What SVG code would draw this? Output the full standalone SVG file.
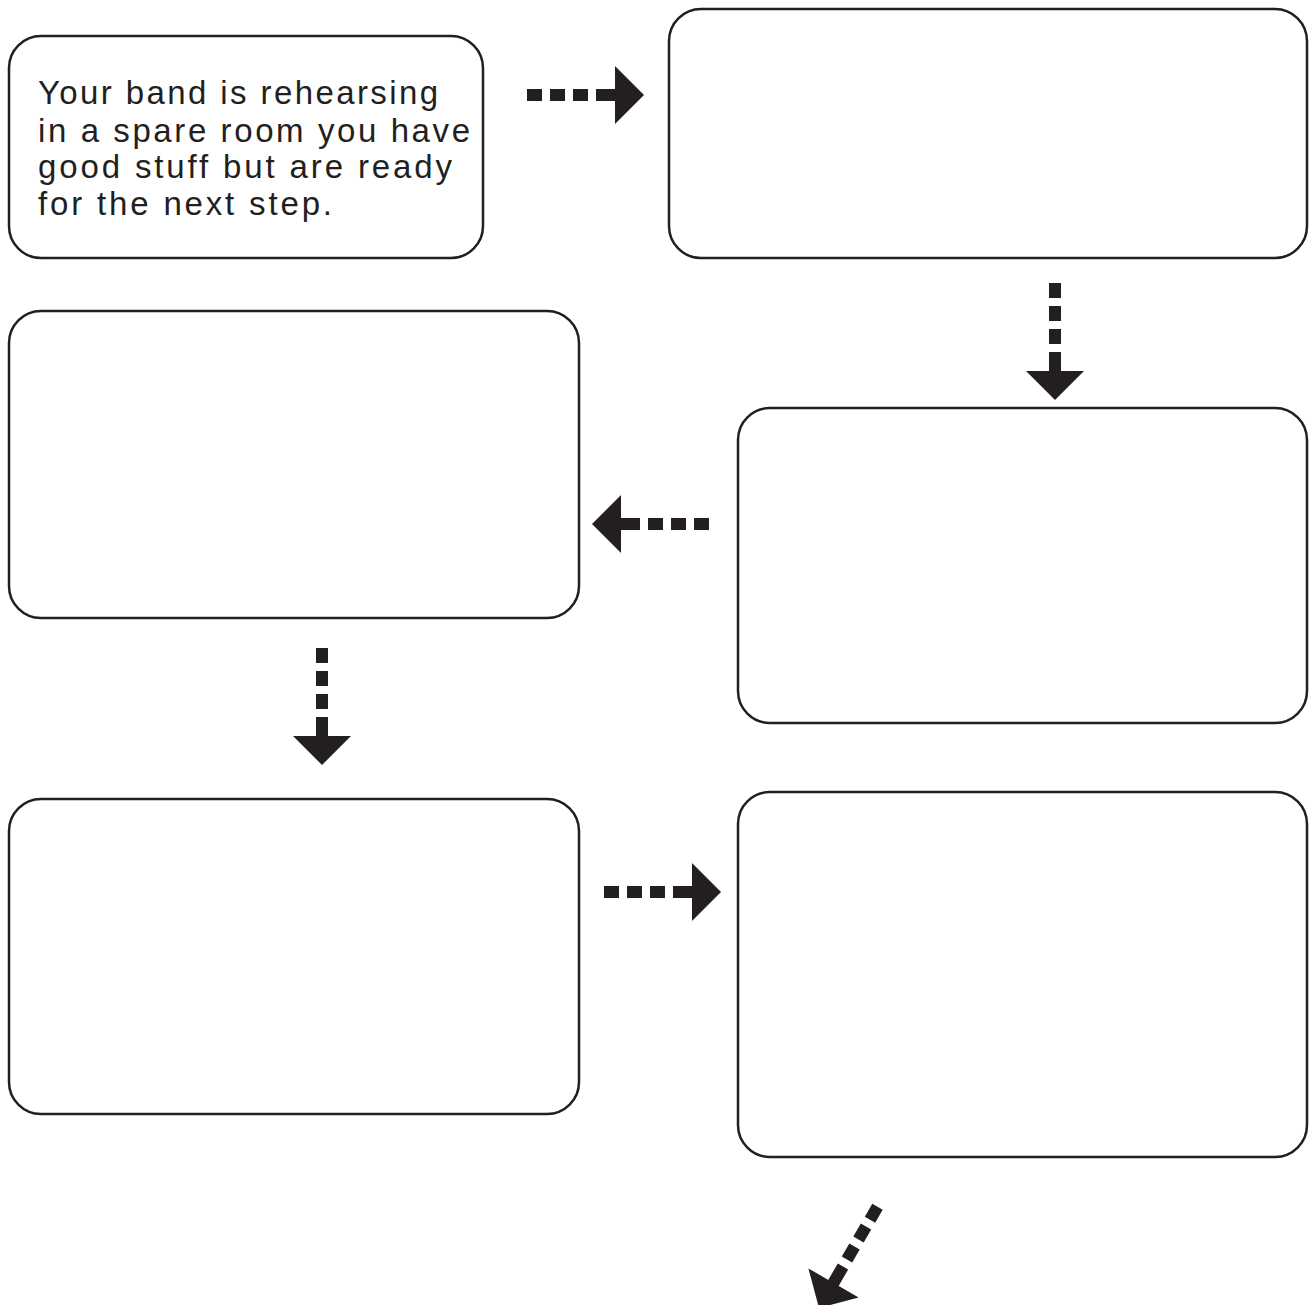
<svg xmlns="http://www.w3.org/2000/svg" xmlns:xlink="http://www.w3.org/1999/xlink" width="1310" height="1305" viewBox="0 0 1310 1305">
<style>
.box{fill:#fff;stroke:#231f20;stroke-width:2.5}
.txt{font-family:"Liberation Sans","DejaVu Sans",sans-serif;font-size:33px;fill:#231f20}
.ar{fill:#231f20}
</style>
<defs>
<g id="arrow" class="ar">
<polygon points="-29,-29 0,0 -29,29"/>
<rect x="-48" y="-6" width="20" height="12"/>
<rect x="-71" y="-6" width="15" height="12"/>
<rect x="-94" y="-6" width="15" height="12"/>
<rect x="-117" y="-6" width="15" height="12"/>
</g>
</defs>
<rect width="1310" height="1305" fill="#fff"/>
<g id="node1">
<rect class="box" x="9" y="36" width="474" height="222" rx="32"/>
<text class="txt" x="38" y="104" textLength="400" lengthAdjust="spacing">Your band is rehearsing</text>
<text class="txt" x="38" y="142" textLength="432" lengthAdjust="spacing">in a spare room you have</text>
<text class="txt" x="38" y="178" textLength="414" lengthAdjust="spacing">good stuff but are ready</text>
<text class="txt" x="38" y="215" textLength="294" lengthAdjust="spacing">for the next step.</text>
</g>
<g id="node2"><rect class="box" x="669" y="9" width="638" height="249" rx="32"/></g>
<g id="node3"><rect class="box" x="9" y="311" width="570" height="307" rx="32"/></g>
<g id="node4"><rect class="box" x="738" y="408" width="569" height="315" rx="32"/></g>
<g id="node5"><rect class="box" x="9" y="799" width="570" height="315" rx="32"/></g>
<g id="node6"><rect class="box" x="738" y="792" width="569" height="365" rx="32"/></g>
<g id="connectors">
<use xlink:href="#arrow" transform="translate(644,95)"/>
<use xlink:href="#arrow" transform="translate(1055,400) rotate(90)"/>
<use xlink:href="#arrow" transform="translate(592,524) rotate(180)"/>
<use xlink:href="#arrow" transform="translate(322,765) rotate(90)"/>
<use xlink:href="#arrow" transform="translate(721,892)"/>
<use xlink:href="#arrow" transform="translate(819,1308) rotate(120)"/>
</g>
</svg>
